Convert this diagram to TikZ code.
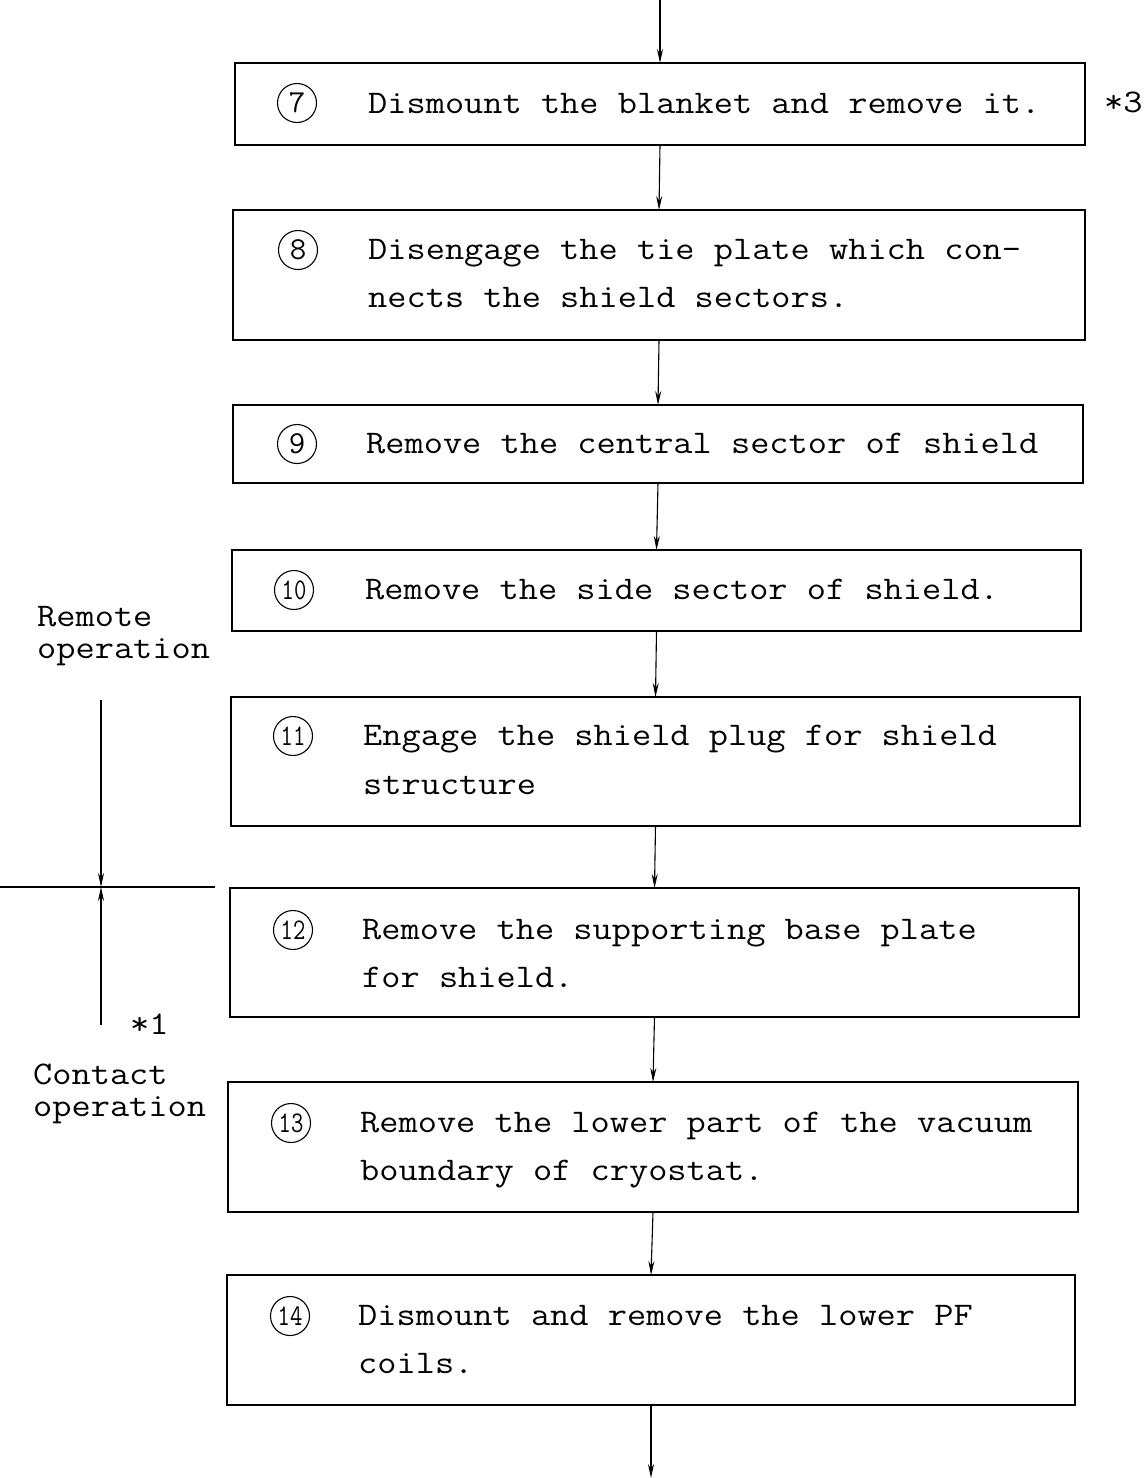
\documentclass[tikz,border=0pt]{standalone}
\usepackage{fontspec}
\usepackage{graphicx}
\usetikzlibrary{arrows.meta}
\newcommand{\narrowdigits}[1]{\scalebox{0.8}[1]{#1}}
\newcommand{\tx}[1]{\scalebox{1.13}[1]{#1}}
\begin{document}
\begin{tikzpicture}[x=1pt,y=-1pt,
  box/.style={draw, line width=1.2pt, inner sep=0pt, outer sep=0pt},
  txt/.style={anchor=base west, inner sep=0pt, font=\ttfamily\fontsize{33}{48}\selectfont},
  circ/.style={draw, circle, line width=1.1pt, minimum size=39pt, inner sep=0pt, font=\ttfamily\fontsize{32}{32}\selectfont},
  circw/.style={circ, font=\ttfamily\fontsize{30}{30}\selectfont},
  arr/.style={line width=1.1pt, -{Stealth[length=14pt,width=6pt]}},
  ln/.style={line width=1.1pt}]
\useasboundingbox (0,0) rectangle (1147,1478);

% boxes
\node[box, minimum width=850pt, minimum height=82pt] (b7) at (660,104) {};
\node[box, minimum width=852pt, minimum height=130pt] (b8) at (659,275) {};
\node[box, minimum width=850pt, minimum height=78pt] (b9) at (658,444) {};
\node[box, minimum width=849pt, minimum height=81pt] (b10) at (656.5,590.5) {};
\node[box, minimum width=849pt, minimum height=129pt] (b11) at (655.5,761.5) {};
\node[box, minimum width=849pt, minimum height=129pt] (b12) at (654.5,952.5) {};
\node[box, minimum width=850pt, minimum height=130pt] (b13) at (653,1147) {};
\node[box, minimum width=848pt, minimum height=130pt] (b14) at (651,1340) {};

% circled numbers
\node[circ] (c7) at (297,103) {7};
\node[circ] (c8) at (298,250) {8};
\node[circ] (c9) at (297,444) {9};
\node[circw] (c10) at (294,590) {\narrowdigits{10}};
\node[circw] (c11) at (293,736) {\narrowdigits{11}};
\node[circw] (c12) at (293,930) {\narrowdigits{12}};
\node[circw] (c13) at (291,1123) {\narrowdigits{13}};
\node[circw] (c14) at (290,1316) {\narrowdigits{14}};

% texts
\node[txt] (t7) at (368,113) {\tx{Dismount the blanket and remove it.}};
\node[txt] (t8a) at (368,259) {\tx{Disengage the tie plate which con-}};
\node[txt] (t8b) at (368,307) {\tx{nects the shield sectors.}};
\node[txt] (t9) at (366,453) {\tx{Remove the central sector of shield}};
\node[txt] (t10) at (365,599) {\tx{Remove the side sector of shield.}};
\node[txt] (t11a) at (363,745) {\tx{Engage the shield plug for shield}};
\node[txt] (t11b) at (363,794) {\tx{structure}};
\node[txt] (t12a) at (362,939) {\tx{Remove the supporting base plate}};
\node[txt] (t12b) at (362,987) {\tx{for shield.}};
\node[txt] (t13a) at (360,1132) {\tx{Remove the lower part of the vacuum}};
\node[txt] (t13b) at (360,1180) {\tx{boundary of cryostat.}};
\node[txt] (t14a) at (358,1325) {\tx{Dismount and remove the lower PF}};
\node[txt] (t14b) at (358,1373) {\tx{coils.}};

\node[txt] (s3) at (1104,112) {\tx{*3}};
\node[txt] (s1) at (130,1034) {\tx{*1}};
\node[txt] (rem1) at (37,626) {\tx{Remote}};
\node[txt] (rem2) at (37,658) {\tx{operation}};
\node[txt] (con1) at (33,1084) {\tx{Contact}};
\node[txt] (con2) at (33,1116) {\tx{operation}};

% flow connectors
\coordinate (top) at (660,0);
\coordinate (bot) at (651,1478);
\draw[arr] (top) -- (b7.north);
\draw[arr] (b7.south) -- (b8.north);
\draw[arr] (b8.south) -- (b9.north);
\draw[arr] (b9.south) -- (b10.north);
\draw[arr] (b10.south) -- (b11.north);
\draw[arr] (b11.south) -- (b12.north);
\draw[arr] (b12.south) -- (b13.north);
\draw[arr] (b13.south) -- (b14.north);
\draw[arr] (b14.south) -- (bot);

% remote / contact boundary
\coordinate (rtop) at (101,700);
\coordinate (cross) at (101,887);
\coordinate (cbot) at (101,1025);
\coordinate (hl) at (0,887);
\coordinate (hr) at (215,887);
\draw[ln] (hl) -- (hr);
\draw[arr] (rtop) -- (cross);
\draw[arr] (cbot) -- (cross);
\end{tikzpicture}
\end{document}
